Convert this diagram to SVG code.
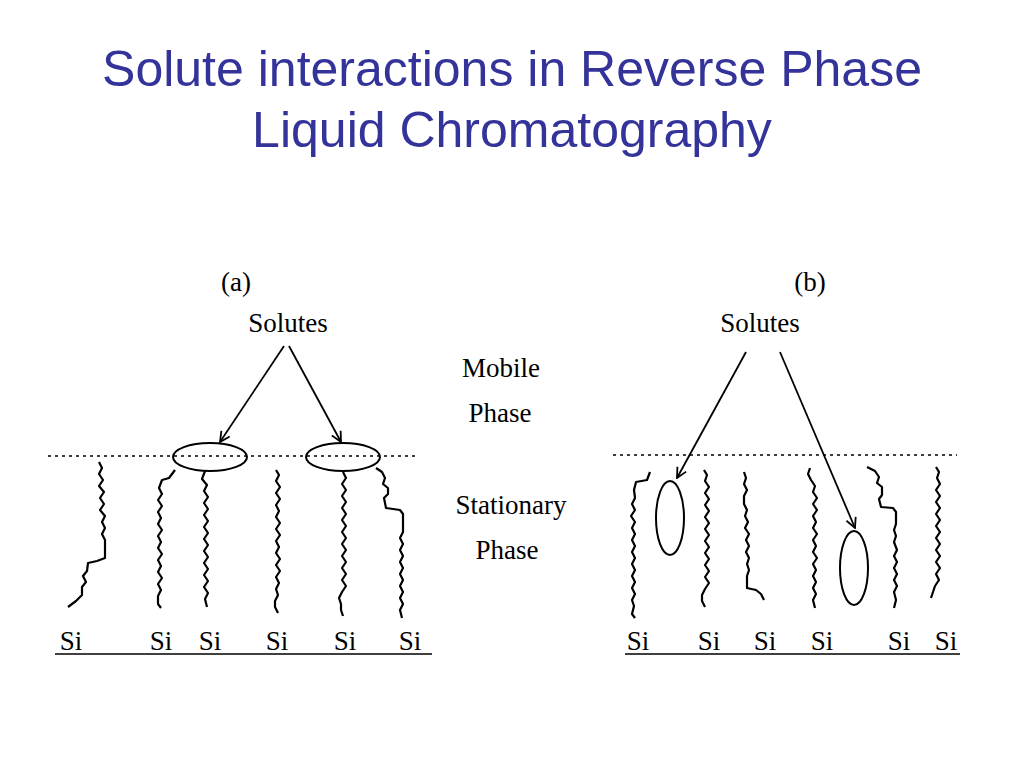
<svg xmlns="http://www.w3.org/2000/svg" width="1024" height="768" viewBox="0 0 1024 768">
<style>
.t{font-family:"Liberation Sans",Arial,sans-serif;fill:#333399;font-size:50px;text-anchor:middle}
.s{font-family:"Liberation Serif","Times New Roman",serif;fill:#000;font-size:27px;text-anchor:middle}
.c{fill:none;stroke:#000;stroke-width:2.2;stroke-linejoin:round}
.d{stroke:#000;stroke-width:1.5;stroke-dasharray:3 4}
.e{fill:none;stroke:#000;stroke-width:2}
.a{stroke:#000;stroke-width:1.8;marker-end:url(#ar)}
</style>
<defs>
<marker id="ar" viewBox="0 0 12 12" refX="11" refY="6" markerWidth="12" markerHeight="12" markerUnits="userSpaceOnUse" orient="auto">
<path d="M1,1 L11,6 L1,11" fill="none" stroke="#000" stroke-width="1.8"/>
</marker>
</defs>
<rect width="1024" height="768" fill="#fff"/>
<text class="t" x="512" y="86">Solute interactions in Reverse Phase</text>
<text class="t" x="512" y="147">Liquid Chromatography</text>
<g id="labels">
<text class="s" x="236" y="291">(a)</text>
<text class="s" x="810" y="291">(b)</text>
<text class="s" x="288" y="332">Solutes</text>
<text class="s" x="760" y="332">Solutes</text>
<text class="s" x="501" y="377">Mobile</text>
<text class="s" x="500" y="422">Phase</text>
<text class="s" x="511" y="514">Stationary</text>
<text class="s" x="507" y="559">Phase</text>
</g>
<g id="panel-a">
<line class="d" x1="48" y1="456" x2="415" y2="456"/>
<ellipse class="e" cx="210" cy="457" rx="37" ry="14"/>
<ellipse class="e" cx="343" cy="457" rx="37" ry="14"/>
<path class="c" d="M99,462 l3,6 l-3,6 l4,6 l-4,6 l5,6 l-4,6 l4,6 l-4,6 l5,6 l-3,6 l3,6 l-3,6 l3,6 l0,18 l-8,3 l-9,2 l-1,8 l-4,5 l3,6 l-4,5 l0,8 l-6,6 l-8,6"/>
<path class="c" d="M175,470 l-6,8 l-7,2 l-3,8 l3,6 l-4,6 l4,6 l-4,6 l3,6 l-3,6 l4,6 l-4,6 l3,6 l-3,6 l4,6 l-4,6 l3,6 l-3,6 l4,6 l-4,6 l3,6 l-3,6 l0,8 l3,4"/>
<path class="c" d="M205,471 l-3,8 l5,6 l-3,6 l4,6 l-4,6 l4,6 l-4,6 l4,6 l-4,6 l4,6 l-4,6 l4,6 l-4,6 l4,6 l-4,6 l4,6 l-4,6 l4,6 l-4,6 l4,6 l-3,6 l2,8"/>
<path class="c" d="M276,470 l3,5 l-3,6 l4,6 l-4,6 l4,6 l-4,6 l3,6 l-3,6 l4,6 l-4,6 l4,6 l-4,6 l3,6 l-3,6 l4,6 l-4,6 l4,6 l-4,6 l3,6 l-3,6 l2,6 l-3,6 l0,6 l3,6"/>
<path class="c" d="M343,472 l3,6 l-4,6 l4,6 l-4,6 l4,6 l-4,6 l4,6 l-4,6 l4,6 l-4,6 l4,6 l-4,6 l4,6 l-4,6 l4,6 l-4,6 l4,6 l-4,6 l4,6 l-4,6 l-3,6 l2,6 l0,6 l2,6"/>
<path class="c" d="M376,468 l6,4 l3,6 l-2,6 l5,4 l0,6 l-4,4 l2,10 l14,2 l3,4 l0,18 l-3,6 l3,6 l-3,6 l3,6 l-3,6 l3,6 l-3,6 l3,6 l-3,6 l3,6 l-3,6 l3,6 l-3,6 l2,8"/>
<g id="si-a">
<text class="s" x="71" y="650">Si</text>
<text class="s" x="161" y="650">Si</text>
<text class="s" x="210" y="650">Si</text>
<text class="s" x="277" y="650">Si</text>
<text class="s" x="345" y="650">Si</text>
<text class="s" x="410" y="650">Si</text>
</g>
<line x1="55" y1="654" x2="432" y2="654" stroke="#000" stroke-width="1.5"/>
</g>
<g id="panel-b">
<line class="d" x1="613" y1="455" x2="957" y2="455"/>
<ellipse class="e" cx="670" cy="518" rx="14" ry="37"/>
<ellipse class="e" cx="854" cy="568" rx="14" ry="37"/>
<path class="c" d="M650,472 l-3,8 l-11,2 l-2,8 l1,8 l-3,6 l3,6 l-4,6 l4,6 l-3,6 l3,6 l-3,6 l3,6 l-3,6 l3,6 l-3,6 l3,6 l-3,6 l3,6 l-3,6 l3,6 l-3,6 l2,6 l-2,8 l3,4"/>
<path class="c" d="M704,470 l3,5 l-2,6 l4,6 l-4,6 l4,6 l-4,6 l4,6 l-4,6 l4,6 l-4,6 l4,6 l-4,6 l4,6 l-4,6 l4,6 l-4,6 l4,6 l-4,6 l4,6 l-4,6 l-3,6 l0,6 l3,6"/>
<path class="c" d="M744,472 l2,6 l-2,6 l3,6 l-3,6 l0,8 l3,6 l-2,6 l3,6 l-3,6 l4,6 l-3,6 l3,6 l-3,6 l3,6 l-2,6 l2,6 l-2,6 l0,12 l9,2 l5,4 l3,6"/>
<path class="c" d="M810,468 l-2,6 l3,6 l4,6 l-2,6 l4,6 l-4,6 l4,6 l-4,6 l3,6 l-3,6 l4,6 l-4,6 l3,6 l-3,6 l4,6 l-4,6 l3,6 l-3,6 l3,6 l-3,6 l3,6 l-3,6 l2,8"/>
<path class="c" d="M867,467 l8,4 l4,6 l-2,6 l5,4 l0,8 l-3,4 l2,8 l12,1 l3,4 l0,12 l-2,6 l2,6 l-2,6 l3,8 l-3,6 l3,6 l-3,6 l3,6 l-3,6 l3,6 l-3,6 l2,8 l-2,8"/>
<path class="c" d="M936,467 l3,5 l-2,6 l3,6 l-4,6 l4,6 l-4,6 l4,6 l-4,6 l4,6 l-4,6 l4,6 l-4,6 l4,6 l-4,6 l4,6 l-4,6 l4,6 l-4,6 l3,6 l-4,6 l-2,6 l-2,6"/>
<g id="si-b">
<text class="s" x="638" y="650">Si</text>
<text class="s" x="709" y="650">Si</text>
<text class="s" x="765" y="650">Si</text>
<text class="s" x="822" y="650">Si</text>
<text class="s" x="899" y="650">Si</text>
<text class="s" x="946" y="650">Si</text>
</g>
<line x1="625" y1="654" x2="960" y2="654" stroke="#000" stroke-width="1.5"/>
</g>
<g id="connectors">
<line class="a" x1="284" y1="346" x2="220" y2="442"/>
<line class="a" x1="289" y1="346" x2="341" y2="442"/>
<line class="a" x1="746" y1="352" x2="677" y2="478"/>
<line class="a" x1="780" y1="352" x2="855" y2="528"/>
</g>
</svg>
